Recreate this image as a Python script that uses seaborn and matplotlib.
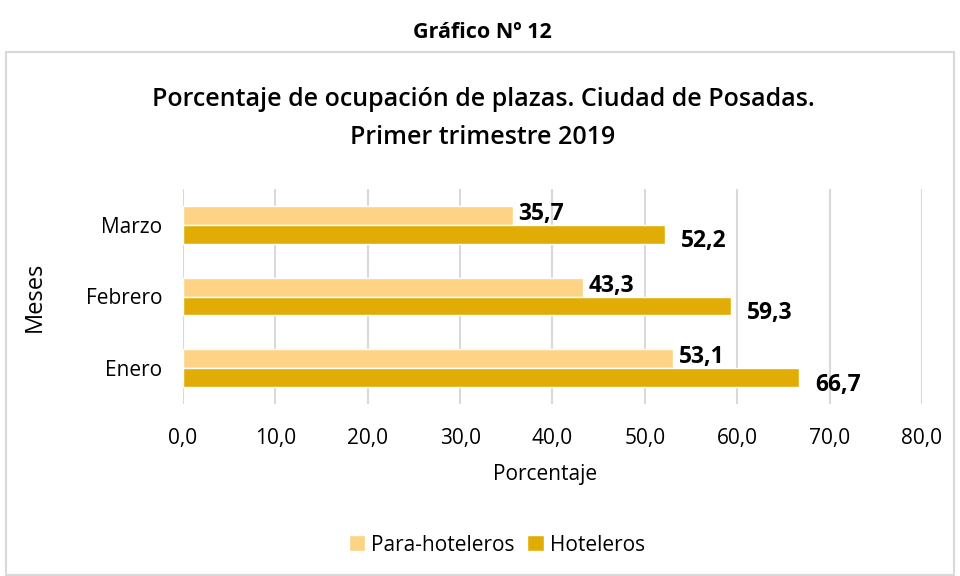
import pandas as pd
import seaborn as sns
import matplotlib.pyplot as plt
from matplotlib.patches import Rectangle

# Data
meses = ['Marzo', 'Febrero', 'Enero']
para_hoteleros = [35.7, 43.3, 53.1]
hoteleros = [52.2, 59.3, 66.7]
series = ['Para-hoteleros', 'Hoteleros']
colores = ['#FED386', '#E2AC07']
xticks = [0, 10, 20, 30, 40, 50, 60, 70, 80]

df = pd.DataFrame({
    'Mes': meses * 2,
    'Tipo': [series[0]] * 3 + [series[1]] * 3,
    'Porcentaje': para_hoteleros + hoteleros,
})

sns.set_theme(style='white')
plt.rcParams['font.family'] = ['Open Sans', 'DejaVu Sans']
plt.rcParams['text.color'] = 'black'
plt.rcParams['axes.labelcolor'] = 'black'

fig = plt.figure(figsize=(9.6, 5.76), dpi=100)
ax = fig.add_axes([0.1906, 1 - 404 / 576, 0.7698, 215 / 576])

sns.barplot(data=df, x='Porcentaje', y='Mes', hue='Tipo', order=meses,
            hue_order=series, palette=colores, orient='h', width=0.53,
            saturation=1, ax=ax, legend=True)

# Data labels
offsets = [(4, 1), (11.5, -5)]
for cont, (dx, dy) in zip(ax.containers, offsets):
    for bar in cont:
        v = bar.get_width()
        ax.annotate(f'{v:.1f}'.replace('.', ','),
                    xy=(v, bar.get_y() + bar.get_height() / 2),
                    xytext=(dx, dy), textcoords='offset points',
                    ha='left', va='center', fontsize=16.5, fontweight='bold',
                    color='black')

ax.set_xlim(0, 80)
ax.set_ylim(2.5, -0.5)
ax.set_xticks(xticks)
ax.set_xticklabels([f'{t:.1f}'.replace('.', ',') for t in xticks])
ax.grid(axis='x', color='#D9D9D9', linewidth=1.5)
ax.set_axisbelow(True)
for s in ax.spines.values():
    s.set_visible(False)
ax.tick_params(axis='x', length=0, pad=17, labelsize=15, colors='black')
ax.tick_params(axis='y', length=0, pad=15, labelsize=15, colors='black')
ax.set_xlabel('Porcentaje', fontsize=15, va='center')
ax.xaxis.set_label_coords(0.49, -0.33)
ax.set_ylabel('Meses', fontsize=17, va='center')
ax.yaxis.set_label_coords(-0.2, 0.5)

ax.legend(loc='center', bbox_to_anchor=(0.425, -0.656), ncol=2, frameon=False,
          fontsize=15, handlelength=0.8, handleheight=0.8, handletextpad=0.3,
          columnspacing=0.6)

# Titles
fig.text(0.502, 1 - 33 / 576, 'Gráfico Nº 12', ha='center', va='center',
         fontsize=15.5, fontweight='bold')
fig.text(0.503, 1 - 100 / 576, 'Porcentaje de ocupación de plazas. Ciudad de Posadas.',
         ha='center', va='center', fontsize=18, fontweight='semibold')
fig.text(0.503, 1 - 137 / 576, 'Primer trimestre 2019', ha='center', va='center',
         fontsize=18, fontweight='semibold')

# Outer chart box
fig.patches.append(Rectangle((6 / 960, 1 / 576), 948 / 960, 1 - 53 / 576,
                             transform=fig.transFigure, fill=False,
                             edgecolor='#D9D9D9', linewidth=1.5))

fig.savefig('out.png', dpi=100)
